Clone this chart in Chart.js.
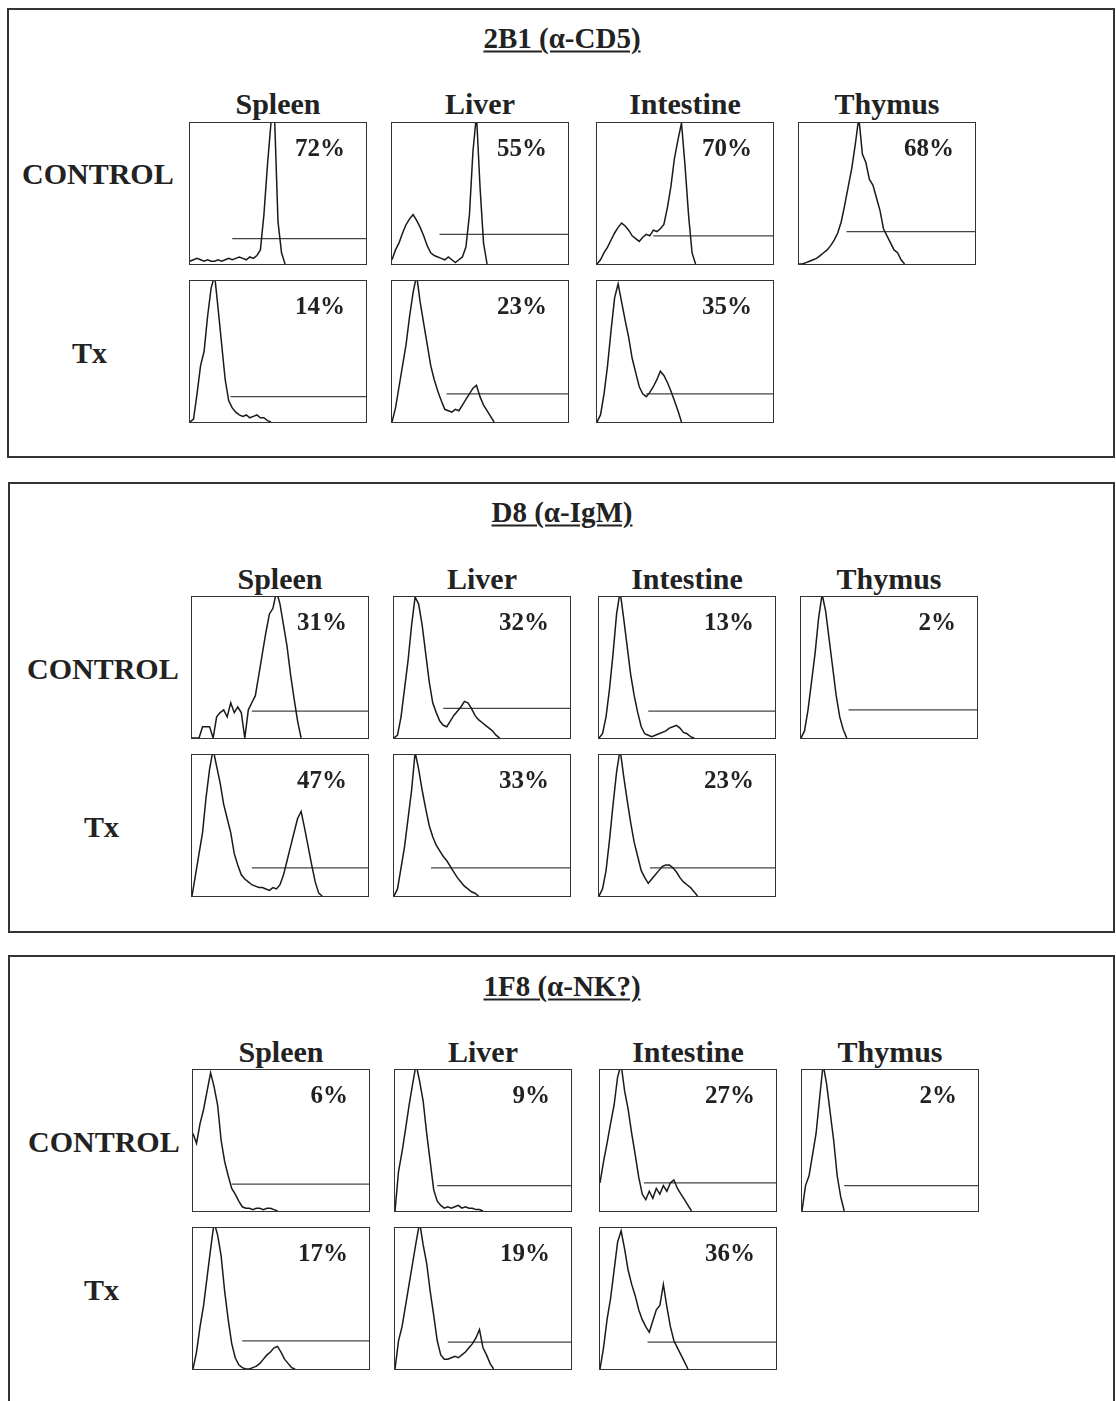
<!DOCTYPE html>
<html lang="en">
<head>
    <meta charset="UTF-8">
    <title>2B1 / D8 / 1F8 staining</title>
    <script src="https://cdn.jsdelivr.net/npm/chart.js"></script>
    <style>
        body {
            margin: 0;
            background: #fff;
            font-family: "Liberation Serif", "Times New Roman", serif;
            font-weight: bold;
            color: #222;
        }
        #page {
            position: relative;
            width: 1116px;
            height: 1401px;
            overflow: hidden;
        }
        .panel {
            position: absolute;
            border: 2px solid #333;
            box-sizing: border-box;
        }
        .title {
            position: absolute;
            font-size: 29px;
            text-decoration: underline;
            text-decoration-thickness: 2px;
            text-underline-offset: 3px;
            transform: translate(-50%, -50%);
            white-space: nowrap;
        }
        .organ {
            position: absolute;
            font-size: 30px;
            transform: translate(-50%, -50%);
            white-space: nowrap;
        }
        .rowlab {
            position: absolute;
            font-size: 30px;
            transform: translateY(-50%);
            white-space: nowrap;
        }
        .hist {
            position: absolute;
            width: 178px;
            height: 143px;
            border: 1px solid #333;
            box-sizing: border-box;
        }
        .hist canvas { display: block; }
        .pct {
            position: absolute;
            font-size: 25px;
            right: 21px;
            top: 25px;
            transform: translateY(-50%);
        }
    </style>
</head>
<body>
<div id="page"></div>
<script>
// channel positions along the x axis (percent of plot width)
const channels = [0,2,4,6,8,10,12,14,16,18,20,22,24,26,28,30,32,34,36,38,40,42,44,46,48,50,
                  52,54,56,58,60,62,64,66,68,70,72,74,76,78,80,82,84,86,88,90,92,94,96,98,100];
const organs = ['Spleen', 'Liver', 'Intestine', 'Thymus'];

// ---- 2B1 (a-CD5) ----
const cd5SpleenCtrl = [2,3,4,3,2,3,2,2,3,2,3,4,3,4,5,4,3,5,4,6,10,35,70,100,106,30,8,0];
const cd5LiverCtrl = [3,10,15,22,28,32,35,31,26,20,13,8,6,5,4,3,5,3,1,3,5,12,35,80,106,55,15,0];
const cd5IntestineCtrl = [0,3,8,12,17,22,26,29,27,24,20,18,16,19,21,20,24,23,25,28,40,55,75,88,100,70,35,8,0];
const cd5ThymusCtrl = [0,0,1,2,3,4,6,8,10,13,17,22,30,42,55,68,85,104,78,72,60,56,47,38,25,20,15,10,8,3,0];
const cd5SpleenTx = [0,2,20,40,50,75,95,104,80,55,30,15,10,7,5,4,5,3,4,5,3,3,1,0];
const cd5LiverTx = [0,10,25,40,55,75,92,104,85,70,55,40,30,22,15,9,8,7,9,8,12,16,20,24,26,18,12,8,4,0];
const cd5IntestineTx = [0,5,20,40,65,88,98,85,72,60,45,35,25,20,18,21,25,30,36,33,28,22,15,8,0];
const cd5CtrlPct = ['72%', '55%', '70%', '68%'];
const cd5TxPct = ['14%', '23%', '35%'];
const cd5CtrlGateStart = [24, 27, 32, 27];
const cd5CtrlGateLevel = [18, 21, 20, 23];
const cd5TxGateStart = [23, 31, 28];
const cd5TxGateLevel = [18, 20, 20];

// ---- D8 (a-IgM) ----
const igmSpleenCtrl = [0,0,0,8,8,8,0,15,18,20,15,25,18,22,18,0,20,25,30,45,60,75,88,92,104,95,80,65,45,28,12,0];
const igmLiverCtrl = [0,2,15,35,55,80,100,95,80,60,40,25,18,12,9,8,12,16,19,22,26,25,21,16,13,11,9,7,5,2,0];
const igmIntestineCtrl = [0,3,15,35,60,88,104,85,65,45,30,18,8,3,2,1,2,3,4,5,7,8,9,7,4,3,1,0];
const igmThymusCtrl = [0,5,20,40,60,85,102,90,70,50,30,15,6,0];
const igmSpleenTx = [0,15,30,45,70,90,104,92,80,65,55,45,30,22,15,12,10,8,7,6,6,5,4,6,5,8,15,25,35,45,55,60,48,35,22,10,2,0];
const igmLiverTx = [0,5,20,35,55,75,102,90,75,62,50,42,36,32,28,25,21,17,13,10,7,5,3,2,0];
const igmIntestineTx = [0,5,18,40,65,88,104,85,68,52,38,28,18,13,9,12,15,18,21,22,22,20,17,13,10,8,6,3,0];
const igmCtrlPct = ['31%', '32%', '13%', '2%'];
const igmTxPct = ['47%', '33%', '23%'];
const igmCtrlGateStart = [34, 28, 28, 27];
const igmCtrlGateLevel = [19, 21, 19, 20];
const igmTxGateStart = [34, 21, 29];
const igmTxGateLevel = [20, 20, 20];

// ---- 1F8 (a-NK?) ----
const nkSpleenCtrl = [55,48,62,72,85,98,88,75,50,35,25,16,12,7,3,2,2,1,2,2,1,2,2,1,0];
const nkLiverCtrl = [0,28,42,58,75,90,104,92,78,55,35,15,7,4,2,3,2,3,4,2,3,2,2,1,1,0];
const nkIntestineCtrl = [20,35,48,62,75,95,104,85,72,55,40,24,12,8,14,9,16,12,18,14,20,22,16,12,8,4,0];
const nkThymusCtrl = [0,18,25,40,55,80,104,90,70,50,25,10,0];
const nkSpleenTx = [0,12,30,45,65,85,104,95,80,55,35,18,8,3,1,0,0,1,2,4,7,10,12,15,16,12,7,4,1,0];
const nkLiverTx = [0,20,30,45,60,75,90,104,88,75,55,38,20,10,7,7,8,9,8,10,12,15,18,22,28,15,10,4,0];
const nkIntestineTx = [0,15,35,50,70,90,98,85,70,60,52,42,35,30,26,34,42,45,60,44,30,20,15,10,5,0];
const nkCtrlPct = ['6%', '9%', '27%', '2%'];
const nkTxPct = ['17%', '19%', '36%'];
const nkCtrlGateStart = [22, 24, 25, 24];
const nkCtrlGateLevel = [19, 18, 20, 18];
const nkTxGateStart = [28, 30, 27];
const nkTxGateLevel = [20, 19, 19];

const page = document.getElementById('page');

function addDiv(cls, text, left, top) {
    const d = document.createElement('div');
    d.className = cls;
    if (text) d.textContent = text;
    d.style.left = left + 'px';
    d.style.top = top + 'px';
    page.appendChild(d);
    return d;
}

function makeHist(left, top, values, pct, gateStart, gateLevel) {
    const box = addDiv('hist', null, left, top);
    const canvas = document.createElement('canvas');
    canvas.width = 176;
    canvas.height = 141;
    box.appendChild(canvas);
    const lab = document.createElement('div');
    lab.className = 'pct';
    lab.textContent = pct;
    box.appendChild(lab);

    new Chart(canvas.getContext('2d'), {
        type: 'line',
        data: {
            datasets: [{
                data: values.map((v, i) => ({ x: channels[i], y: v })),
                borderColor: '#1a1a1a',
                borderWidth: 1.5,
                pointRadius: 0,
                tension: 0,
                fill: false
            }, {
                // marker gate
                data: [{ x: gateStart, y: gateLevel }, { x: 100, y: gateLevel }],
                borderColor: '#444',
                borderWidth: 1.2,
                pointRadius: 0,
                fill: false
            }]
        },
        options: {
            responsive: false,
            animation: false,
            events: [],
            layout: { padding: 0 },
            plugins: { legend: { display: false }, tooltip: { enabled: false } },
            scales: {
                x: { type: 'linear', min: 0, max: 100, display: false },
                y: { min: 0, max: 100, display: false }
            }
        }
    });
}

// panel layout (pixel positions only)
const panels = [
    { top: 8, bottom: 458, left: 7, title: '2B1 (\u03b1-CD5)', titleY: 38, headY: 104, ctrlTop: 122, txTop: 280, x0: 189,
      ctrlLab: [22, 174], txLab: [72, 353],
      ctrl: [cd5SpleenCtrl, cd5LiverCtrl, cd5IntestineCtrl, cd5ThymusCtrl], tx: [cd5SpleenTx, cd5LiverTx, cd5IntestineTx],
      ctrlPct: cd5CtrlPct, txPct: cd5TxPct, cgs: cd5CtrlGateStart, cgl: cd5CtrlGateLevel, tgs: cd5TxGateStart, tgl: cd5TxGateLevel },
    { top: 482, bottom: 933, left: 8, title: 'D8 (\u03b1-IgM)', titleY: 512, headY: 579, ctrlTop: 596, txTop: 754, x0: 191,
      ctrlLab: [27, 669], txLab: [84, 827],
      ctrl: [igmSpleenCtrl, igmLiverCtrl, igmIntestineCtrl, igmThymusCtrl], tx: [igmSpleenTx, igmLiverTx, igmIntestineTx],
      ctrlPct: igmCtrlPct, txPct: igmTxPct, cgs: igmCtrlGateStart, cgl: igmCtrlGateLevel, tgs: igmTxGateStart, tgl: igmTxGateLevel },
    { top: 955, bottom: 1420, left: 8, title: '1F8 (\u03b1-NK?)', titleY: 986, headY: 1052, ctrlTop: 1069, txTop: 1227, x0: 192,
      ctrlLab: [28, 1142], txLab: [84, 1290],
      ctrl: [nkSpleenCtrl, nkLiverCtrl, nkIntestineCtrl, nkThymusCtrl], tx: [nkSpleenTx, nkLiverTx, nkIntestineTx],
      ctrlPct: nkCtrlPct, txPct: nkTxPct, cgs: nkCtrlGateStart, cgl: nkCtrlGateLevel, tgs: nkTxGateStart, tgl: nkTxGateLevel }
];
const colOffsets = [0, 202, 407, 609];

panels.forEach(p => {
    const frame = addDiv('panel', null, p.left, p.top);
    frame.style.width = (1115 - p.left) + 'px';
    frame.style.height = (p.bottom - p.top) + 'px';
    addDiv('title', p.title, 562, p.titleY);
    organs.forEach((o, i) => addDiv('organ', o, p.x0 + colOffsets[i] + 89, p.headY));
    addDiv('rowlab', 'CONTROL', p.ctrlLab[0], p.ctrlLab[1]);
    addDiv('rowlab', 'Tx', p.txLab[0], p.txLab[1]);
    p.ctrl.forEach((vals, i) => makeHist(p.x0 + colOffsets[i], p.ctrlTop, vals, p.ctrlPct[i], p.cgs[i], p.cgl[i]));
    p.tx.forEach((vals, i) => makeHist(p.x0 + colOffsets[i], p.txTop, vals, p.txPct[i], p.tgs[i], p.tgl[i]));
});
</script>
</body>
</html>
